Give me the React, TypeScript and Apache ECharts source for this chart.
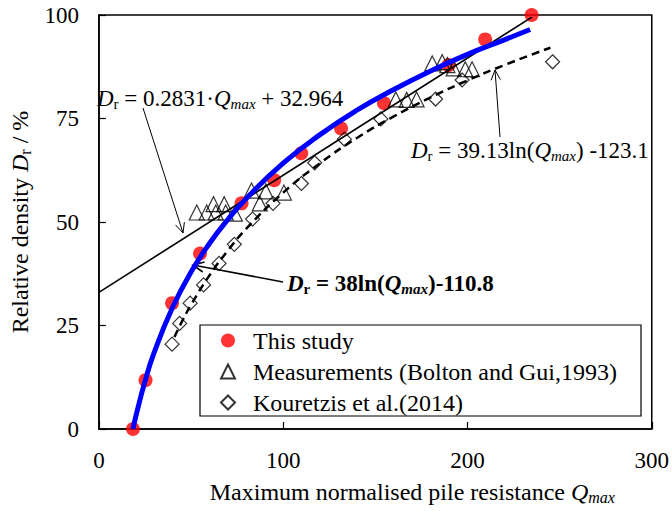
import React, { useEffect, useRef } from "react";
import * as echarts from "echarts";

// This study
const studyQ = [18.5, 25.3, 39.7, 54.9, 77.4, 95.1, 109.8, 131.4, 154.7, 189.8, 209.6, 234.8];
const studyDr = [0, 11.8, 30.4, 42.4, 54.5, 60.1, 66.6, 72.6, 78.7, 87.9, 94.1, 100];

// Measurements (Bolton and Gui, 1993)
const boltonQ = [53.1, 58.5, 62.2, 63.4, 68.0, 68.8, 73.8, 82.8, 87.3, 90.6, 100.4, 161.1, 167.0, 172.4, 180.9, 186.3, 189.1, 192.5, 198.8, 202.5];
const boltonDr = [52.3, 52.3, 54.3, 52.3, 54.3, 52.3, 52.0, 57.6, 54.5, 57.4, 57.1, 79.6, 79.5, 79.6, 88.3, 88.6, 87.9, 87.1, 86.9, 86.9];

// Kouretzis et al. (2014)
const kourQ = [39.7, 43.8, 49.5, 56.8, 65.2, 73.5, 83.4, 94.5, 109.9, 117.1, 133.2, 153.0, 182.7, 197.1, 246.2];
const kourDr = [20.5, 25.5, 30.4, 34.8, 40.0, 44.6, 50.7, 54.5, 59.3, 64.3, 70.0, 74.9, 79.7, 84.3, 88.7];

// Linear trend line
const linQ = [0, 235];
const linDr = [33.0, 99.5];

// Dashed log trend (Kouretzis)
const dashQ = [41, 45, 50, 60, 70, 80, 100, 120, 140, 160, 180, 200, 220, 245];
const dashDr = [22.2, 25.9, 30.0, 37.1, 43.1, 48.4, 57.1, 64.2, 70.3, 75.5, 80.1, 84.2, 87.9, 92.1];

// Blue log trend (this study)
const blueQ = [18.5, 20, 25, 30, 40, 50, 60, 70, 80, 100, 120, 140, 160, 180, 200, 220, 234];
const blueDr = [0, 3.0, 11.5, 18.5, 29.4, 37.9, 44.8, 50.6, 55.7, 64.2, 71.1, 77.0, 82.0, 86.5, 90.5, 94.0, 96.5];

const xTicks = [0, 100, 200, 300];
const yTicks = [0, 25, 50, 75, 100];

const legendNames = ["This study", "Measurements (Bolton and Gui,1993)", "Kouretzis et al.(2014)"];

const FONT = "Times New Roman";

const zip = (a: number[], b: number[]) => a.map((v, i) => [v, b[i]]);

function richStyles(size: number, bold: boolean) {
  const base: any = { fontFamily: FONT, color: "#000" };
  if (bold) base.fontWeight = "bold";
  const sub = Math.round(size * 0.65);
  return {
    t: { ...base, fontSize: size, lineHeight: size + 3 },
    i: { ...base, fontSize: size, fontStyle: "italic", lineHeight: size + 3 },
    sub: { ...base, fontSize: sub, lineHeight: 12, verticalAlign: "bottom" },
    subi: { ...base, fontSize: sub, fontStyle: "italic", lineHeight: 12, verticalAlign: "bottom" },
  };
}

function arrow(x1: number, y1: number, x2: number, y2: number, lw: number, head: number) {
  const ang = Math.atan2(y2 - y1, x2 - x1);
  const a = (25 * Math.PI) / 180;
  const p1 = [x2 - head * Math.cos(ang - a), y2 - head * Math.sin(ang - a)];
  const p2 = [x2 - head * Math.cos(ang + a), y2 - head * Math.sin(ang + a)];
  return [
    { type: "line", shape: { x1, y1, x2, y2 }, style: { stroke: "#000", lineWidth: lw }, silent: true },
    { type: "polyline", shape: { points: [p1, [x2, y2], p2] }, style: { stroke: "#000", lineWidth: lw, fill: null }, silent: true },
  ];
}

export default function App() {
  const ref = useRef<HTMLDivElement>(null);
  useEffect(() => {
    document.body.style.margin = "0";
    if (!ref.current) return;
    const chart = echarts.init(ref.current, null, { renderer: "svg" });
    const option: any = {
      animation: false,
      backgroundColor: "#fff",
      grid: { left: 96, right: 19, top: 15, bottom: 82, show: true, borderColor: "#000", borderWidth: 1.5, backgroundColor: "transparent" },
      xAxis: {
        type: "value",
        min: xTicks[0],
        max: xTicks[xTicks.length - 1],
        interval: 100,
        axisLine: { show: true, lineStyle: { color: "#000", width: 1.5 } },
        axisTick: { show: true, inside: true, length: 7, lineStyle: { color: "#000", width: 1.2 } },
        splitLine: { show: false },
        axisLabel: { color: "#000", fontSize: 23, fontFamily: FONT, margin: 20 },
        name: "Maximum normalised pile resistance {i|Q}{subi|max}",
        nameLocation: "middle",
        nameGap: 49,
        nameTextStyle: { fontFamily: FONT, fontSize: 24, color: "#000", padding: [0, 0, 0, 74], rich: richStyles(24, false) },
      },
      yAxis: {
        type: "value",
        min: yTicks[0],
        max: yTicks[yTicks.length - 1],
        interval: 25,
        axisLine: { show: true, lineStyle: { color: "#000", width: 1.5 } },
        axisTick: { show: true, inside: true, length: 7, lineStyle: { color: "#000", width: 1.2 } },
        splitLine: { show: false },
        axisLabel: { color: "#000", fontSize: 23, fontFamily: FONT, margin: 20 },
        name: "Relative density {i|D}{sub|r} / %",
        nameLocation: "middle",
        nameRotate: 90,
        nameGap: 52,
        nameTextStyle: { fontFamily: FONT, fontSize: 24, color: "#000", rich: richStyles(24, false) },
      },
      legend: {
        data: legendNames,
        orient: "vertical",
        left: 220,
        top: 325,
        padding: 0,
        itemGap: 0,
        itemWidth: 14,
        itemHeight: 14,
        selectedMode: false,
        textStyle: { fontFamily: FONT, fontSize: 24, color: "#000", lineHeight: 31, padding: [0, 0, 0, 13] },
      },
      series: [
        {
          name: legendNames[0],
          type: "scatter",
          data: zip(studyQ, studyDr),
          symbol: "circle",
          symbolSize: 14,
          itemStyle: { color: "#ff0000" },
          z: 2,
        },
        {
          name: legendNames[1],
          type: "scatter",
          data: zip(boltonQ, boltonDr),
          symbol: "triangle",
          symbolSize: 15,
          itemStyle: { color: "rgba(255,255,255,0)", borderColor: "#000", borderWidth: 1.2 },
          z: 2,
        },
        {
          name: legendNames[2],
          type: "scatter",
          data: zip(kourQ, kourDr),
          symbol: "diamond",
          symbolSize: 14,
          itemStyle: { color: "rgba(255,255,255,0)", borderColor: "#000", borderWidth: 1.2 },
          z: 2,
        },
        {
          name: "linear fit",
          type: "line",
          data: zip(linQ, linDr),
          showSymbol: false,
          symbol: "none",
          lineStyle: { color: "#000", width: 1.6 },
          z: 3,
        },
        {
          name: "Kouretzis fit",
          type: "line",
          data: zip(dashQ, dashDr),
          showSymbol: false,
          symbol: "none",
          smooth: true,
          lineStyle: { color: "#000", width: 2.5, type: [8, 5] },
          z: 3,
        },
        {
          name: "This study fit",
          type: "line",
          data: zip(blueQ, blueDr),
          showSymbol: false,
          symbol: "none",
          smooth: true,
          lineStyle: { color: "#0000ff", width: 5 },
          z: 4,
        },
      ],
      graphic: [
        { type: "rect", shape: { x: 200, y: 325, width: 441, height: 91 }, style: { fill: null, stroke: "#000", lineWidth: 1.2 }, z: 10, silent: true },
        {
          type: "text",
          x: 97,
          y: 98,
          z: 10,
          style: {
            text: "{i|D}{sub|r}{t| = 0.2831·}{i|Q}{subi|max}{t| + 32.964}",
            rich: richStyles(23, false),
            fontFamily: FONT,
            verticalAlign: "middle",
            align: "left",
          },
        },
        {
          type: "text",
          x: 411,
          y: 150,
          z: 10,
          style: {
            text: "{i|D}{sub|r}{t| = 39.13ln(}{i|Q}{subi|max}{t|) -123.1}",
            rich: richStyles(23, false),
            fontFamily: FONT,
            verticalAlign: "middle",
            align: "left",
          },
        },
        {
          type: "text",
          x: 287,
          y: 283,
          z: 10,
          style: {
            text: "{i|D}{sub|r}{t| = 38ln(}{i|Q}{subi|max}{t|)-110.8}",
            rich: richStyles(23, true),
            fontFamily: FONT,
            verticalAlign: "middle",
            align: "left",
          },
        },
        ...arrow(143, 108, 183, 233, 1, 11),
        ...arrow(500, 137, 495, 70, 1, 11),
        ...arrow(283, 282, 193, 265, 1.6, 12),
      ],
    };
    chart.setOption(option);
    return () => chart.dispose();
  }, []);
  return <div ref={ref} style={{ width: 672, height: 511 }} />;
}
